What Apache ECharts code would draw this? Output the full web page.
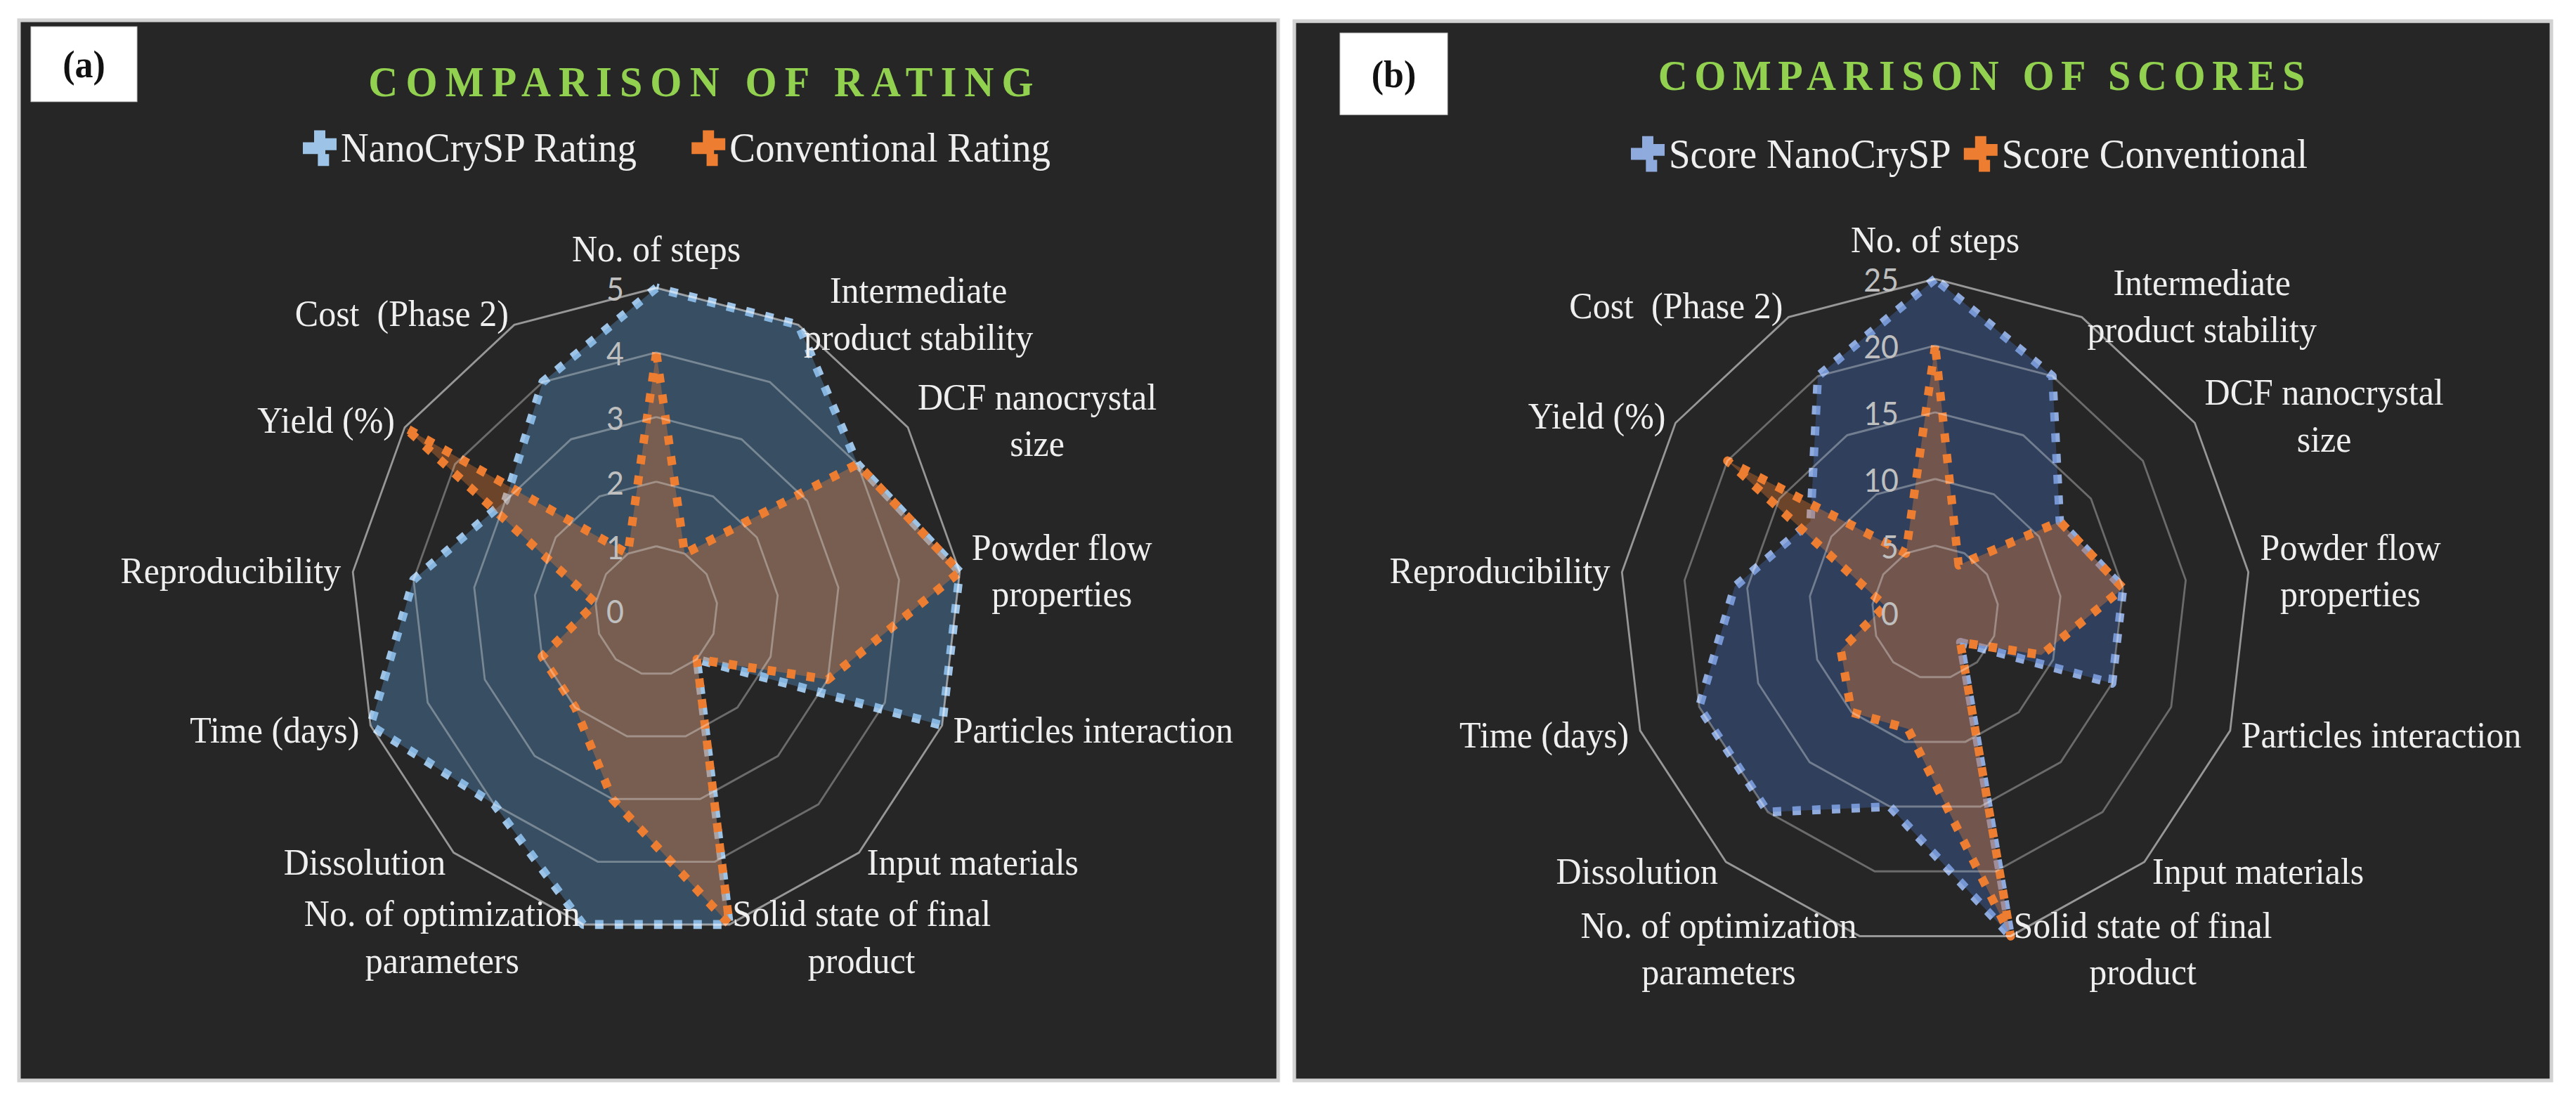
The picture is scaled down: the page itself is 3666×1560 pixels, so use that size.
<!DOCTYPE html>
<html>
<head>
<meta charset="utf-8">
<script src="https://cdn.jsdelivr.net/npm/echarts@6/dist/echarts.min.js"></script>
<style>
html, body { margin: 0; padding: 0; background: #ffffff; overflow: hidden; }
#wrap { position: absolute; left: 0; top: 0; width: 3666px; height: 1476px; transform: scaleY(1.057); transform-origin: 0 0; }
#chart { position: absolute; left: 0; top: 0; width: 3666px; height: 1476px; }
.ttl { position: absolute; width: 1400px; text-align: center; white-space: nowrap;
       font-family: 'Liberation Serif', serif; font-weight: bold; font-size: 58px; line-height: 70px; color: #92D050; }
</style>
</head>
<body>
<div id="wrap"><div id="chart"></div></div>
<script>
// ---------------- data (clockwise from the top, as in the picture) ----------------
const categories = [
  'No. of steps',
  'Intermediate\nproduct stability',
  'DCF nanocrystal\nsize',
  'Powder flow\nproperties',
  'Particles interaction',
  'Input materials',
  'Solid state of final\nproduct',
  'No. of optimization\nparameters',
  'Dissolution',
  'Time (days)',
  'Reproducibility',
  'Yield (%)',
  'Cost  (Phase 2)'
];
const nanoRating = [5, 5, 4, 5, 5, 1, 5, 5, 4, 5, 4, 3, 4];
const convRating = [4, 1, 4, 5, 3, 1, 5, 3, 2, 2, 1, 5, 1];
const nanoScore  = [25, 20, 12, 15, 15, 3, 25, 15, 20, 20, 16, 12, 20];
const convScore  = [20, 4, 12, 15, 9, 3, 25, 9, 10, 8, 4, 20, 5];
const ratingMax = 5;
const scoreMax = 25;
const titleA = 'COMPARISON OF RATING';
const titleB = 'COMPARISON OF SCORES';
const legendA = ['NanoCrySP Rating', 'Conventional Rating'];
const legendB = ['Score NanoCrySP', 'Score Conventional'];
const panelLabels = ['(a)', '(b)'];

// ECharts lays radar indicators out anticlockwise; reorder so they read clockwise.
const order = [0].concat(categories.map(function (_, i) { return i; }).slice(1).reverse());
function reorder(arr) { return order.map(function (i) { return arr[i]; }); }

// ---------------- titles (letter-spaced) ----------------
const wrap = document.getElementById('wrap');
function addTitle(text, cx, cy, ls) {
  const d = document.createElement('div');
  d.className = 'ttl';
  d.textContent = text;
  d.style.letterSpacing = ls + 'px';
  d.style.left = (cx - 700 + ls / 2) + 'px';
  d.style.top = (cy - 35) + 'px';
  wrap.appendChild(d);
}
addTitle(titleA, 997.5, 111, 11.2);
addTitle(titleB, 2820, 102, 9.6);

// ---------------- chart ----------------
const chart = echarts.init(document.getElementById('chart'), null, { renderer: 'svg' });

const serifFont = 'Liberation Serif';
const ringColors = ['rgba(255,255,255,0.32)', 'rgba(255,255,255,0.32)', 'rgba(255,255,255,0.32)',
                    'rgba(255,255,255,0.32)', 'rgba(255,255,255,0.32)', 'rgba(255,255,255,0.52)'];

function radarCfg(center, radius, max, margin) {
  const cats = reorder(categories);
  return {
    center: center,
    radius: radius,
    startAngle: 90,
    shape: 'polygon',
    splitNumber: 5,
    nameGap: 17,
    z: 3,
    indicator: cats.map(function (n, i) {
      return i === 0 ? { name: n, min: 0, max: max, axisLabel: { show: true } }
                     : { name: n, min: 0, max: max };
    }),
    axisName: {
      color: '#efefef', fontSize: 50, fontFamily: serifFont, lineHeight: 63,
      formatter: function (n) {
        return n.indexOf('\n') >= 0 ? n.split('\n').map(function (s) { return '{c|' + s + '}'; }).join('\n') : n;
      },
      rich: { c: { align: 'center', fontSize: 50, fontFamily: serifFont, color: '#efefef', lineHeight: 63 } }
    },
    axisLine: { show: false },
    axisTick: { show: false },
    splitArea: { show: false },
    splitLine: { lineStyle: { color: ringColors, width: 2.8 } },
    axisLabel: { show: false, color: '#bfbfbf', fontSize: 43, fontFamily: 'Lato', margin: margin }
  };
}

const dotted = [12, 16];
function item(name, values, lineColor, fillColor) {
  return {
    name: name,
    value: reorder(values),
    symbol: 'none',
    lineStyle: { color: lineColor, width: 12, type: dotted },
    areaStyle: { color: fillColor },
    itemStyle: { color: lineColor }
  };
}

const legendIcon = 'path://M3,0h3v3h-3z M0,3h3v3h-3z M6,2h3v3h-3z M4,6h3v3h-3z M3,3h3v3h-3z';

function legendCfg(names, colors, left, cy, gap) {
  return {
    data: names.map(function (n, i) { return { name: n, itemStyle: { color: colors[i] } }; }),
    left: left,
    top: cy - 24,
    orient: 'horizontal',
    itemWidth: 50,
    itemHeight: 48,
    itemGap: gap,
    icon: legendIcon,
    selectedMode: false,
    textStyle: { color: '#efefef', fontSize: 55, fontFamily: serifFont }
  };
}

const option = {
  animation: false,
  backgroundColor: 'transparent',
  graphic: [
    { type: 'rect', z: -10, silent: true, shape: { x: 27, y: 27.4, width: 1792, height: 1427.6 },
      style: { fill: '#262626', stroke: '#d2d2d2', lineWidth: 5 } },
    { type: 'rect', z: -10, silent: true, shape: { x: 1842, y: 28.4, width: 1789, height: 1426.6 },
      style: { fill: '#262626', stroke: '#d2d2d2', lineWidth: 5 } },
    { type: 'rect', z: -5, silent: true, shape: { x: 44, y: 36, width: 151, height: 101 },
      style: { fill: '#ffffff', stroke: '#c8c8c8', lineWidth: 1 } },
    { type: 'rect', z: -5, silent: true, shape: { x: 1907, y: 44.5, width: 153, height: 110 },
      style: { fill: '#ffffff', stroke: '#c8c8c8', lineWidth: 1 } },
    { type: 'text', z: -4, silent: true, x: 119.5, y: 87,
      style: { text: panelLabels[0], fontSize: 52, fontFamily: serifFont, fontWeight: 'bold', fill: '#111111', align: 'center', verticalAlign: 'middle' } },
    { type: 'text', z: -4, silent: true, x: 1983.5, y: 99.5,
      style: { text: panelLabels[1], fontSize: 52, fontFamily: serifFont, fontWeight: 'bold', fill: '#111111', align: 'center', verticalAlign: 'middle' } }
  ],
  legend: [
    legendCfg(legendA, ['#9DC3E6', '#ED7D31'], 426, 191, 76),
    legendCfg(legendB, ['#8FAADC', '#ED7D31'], 2316, 198.7, 18)
  ],
  radar: [
    radarCfg([934, 822.6], 435, ratingMax, 46),
    radarCfg([2754, 824.6], 449, scoreMax, 52)
  ],
  series: [
    {
      type: 'radar', radarIndex: 0, z: 2, symbol: 'none',
      emphasis: { disabled: true },
      data: [
        item(legendA[0], nanoRating, '#9DC3E6', 'rgba(91,155,213,0.5)'),
        item(legendA[1], convRating, '#ED7D31', 'rgba(237,125,49,0.5)')
      ]
    },
    {
      type: 'radar', radarIndex: 1, z: 2, symbol: 'none',
      emphasis: { disabled: true },
      data: [
        item(legendB[0], nanoScore, '#8FAADC', 'rgba(68,114,196,0.5)'),
        item(legendB[1], convScore, '#ED7D31', 'rgba(237,125,49,0.5)')
      ]
    }
  ]
};
chart.setOption(option);
</script>
</body>
</html>
